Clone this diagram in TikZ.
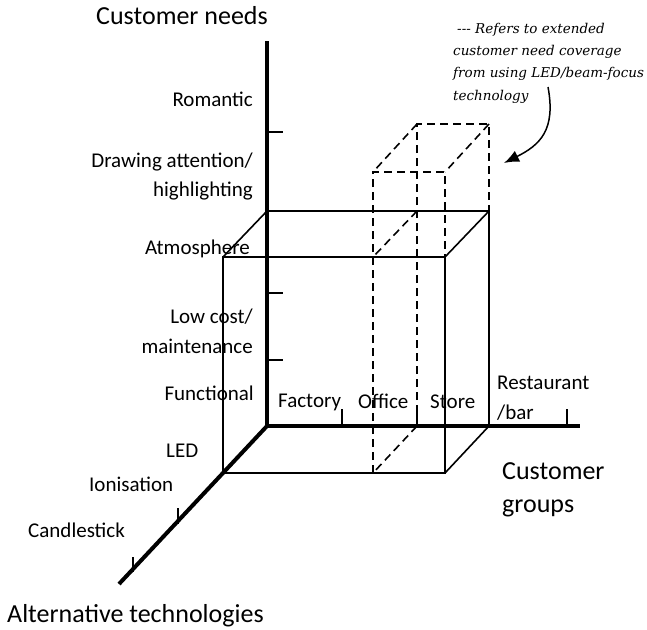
\documentclass[tikz,border=0pt]{standalone}
\usepackage{fontspec}
\setmainfont{Carlito}
\newfontfamily\notefont{DejaVu Serif}
\usetikzlibrary{positioning, arrows.meta}

\begin{document}
\begin{tikzpicture}[x=1pt, y=-1pt,
        axis/.style={line width=4pt},
        edge/.style={line width=1.6pt},
        ext/.style={line width=1.6pt, dash pattern=on 8pt off 5pt},
        lbl/.style={font=\fontsize{21}{28}\selectfont, inner sep=0pt},
        ttl/.style={font=\fontsize{26}{38}\selectfont, inner sep=0pt, align=left}]
        \useasboundingbox (0,0) rectangle (647,629);
        % axes
        \coordinate (o) at (267,426);
        \coordinate (needs) at (267,41);
        \coordinate (groups) at (580,426);
        \coordinate (techs) at (119,584);
        \draw [axis] (needs) -- (o) -- (groups);
        \draw [axis] (o) -- (techs);
        \foreach \y in {132,211,293,360}
            \draw [edge] (267,\y) -- (283,\y);
        \foreach \x in {342,417,567}
            \draw [edge] (\x,426) -- (\x,409);
        \draw [edge] (178,524) -- (178,508);
        \draw [edge] (133,572) -- (133,557);
        % solid box
        \coordinate (b1) at (267,211);
        \coordinate (b2) at (489,211);
        \coordinate (b3) at (489,426);
        \coordinate (f1) at (223,257);
        \coordinate (f2) at (445,257);
        \coordinate (f3) at (445,473);
        \coordinate (f4) at (223,473);
        \draw [edge] (f1) -- (f2) -- (f3) -- (f4) -- cycle;
        \draw [edge] (b1) -- (b2) -- (b3);
        \draw [edge] (b1) -- (f1);
        \draw [edge] (b2) -- (f2);
        \draw [edge] (b3) -- (f3);
        % extended (dashed) column
        \coordinate (d1) at (417,124);
        \coordinate (d2) at (489,124);
        \coordinate (e1) at (373,172);
        \coordinate (e2) at (445,172);
        \coordinate (d3) at (417,211);
        \coordinate (d4) at (417,426);
        \coordinate (e3) at (373,257);
        \coordinate (e4) at (373,473);
        \draw [ext] (d4) -- (d1) -- (d2) -- (b2);
        \draw [ext] (e4) -- (e1) -- (e2) -- (f2);
        \draw [ext] (d1) -- (e1);
        \draw [ext] (d2) -- (e2);
        \draw [ext] (d3) -- (e3);
        \draw [ext] (d4) -- (e4);
        % axis titles
        \node [ttl, anchor=base west] (needsttl) at (96,24) {Customer needs};
        \node [ttl, anchor=base west] (groupsttl) at (502,479) {Customer};
        \node [ttl, anchor=base west] (groupsttl2) at (502,512) {groups};
        \node [ttl, anchor=base west] (techsttl) at (7,622) {Alternative technologies};
        % customer needs
        \node [lbl, anchor=base east] (romantic) at (253,106) {Romantic};
        \node [lbl, anchor=base east] (drawing) at (253,167) {Drawing attention/};
        \node [lbl, anchor=base east] (highlight) at (253,196) {highlighting};
        \node [lbl, anchor=base east] (atmos) at (250,254) {Atmosphere};
        \node [lbl, anchor=base east] (lowcost) at (253,323) {Low cost/};
        \node [lbl, anchor=base east] (maint) at (253,353) {maintenance};
        \node [lbl, anchor=base east] (func) at (254,400) {Functional};
        % customer groups
        \node [lbl, anchor=base west] (factory) at (278,407) {Factory};
        \node [lbl, anchor=base west] (office) at (358,408) {Office};
        \node [lbl, anchor=base west] (store) at (430,408) {Store};
        \node [lbl, anchor=base west] (rest) at (497,389) {Restaurant};
        \node [lbl, anchor=base west] (bar) at (497,419) {/bar};
        % technologies
        \node [lbl, anchor=base west] (led) at (166,457) {LED};
        \node [lbl, anchor=base west] (ion) at (89,491) {Ionisation};
        \node [lbl, anchor=base west] (candle) at (28,537) {Candlestick};
        % note
        \node [anchor=base west, inner sep=0pt, align=left,
            font=\notefont\itshape\fontsize{13.5}{22.3}\selectfont] (note) at (453,100)
            {\hspace{4pt}--- Refers to extended\\customer need coverage\\from using LED/beam-focus\\technology};
        \coordinate (hook) at (548,87);
        \coordinate (tip) at (504,163);
        \draw [line width=1.5pt, -{Latex[length=15pt, width=12pt]}] (hook) .. controls (556,130) and (540,145) .. (tip);
\end{tikzpicture}
\end{document}
